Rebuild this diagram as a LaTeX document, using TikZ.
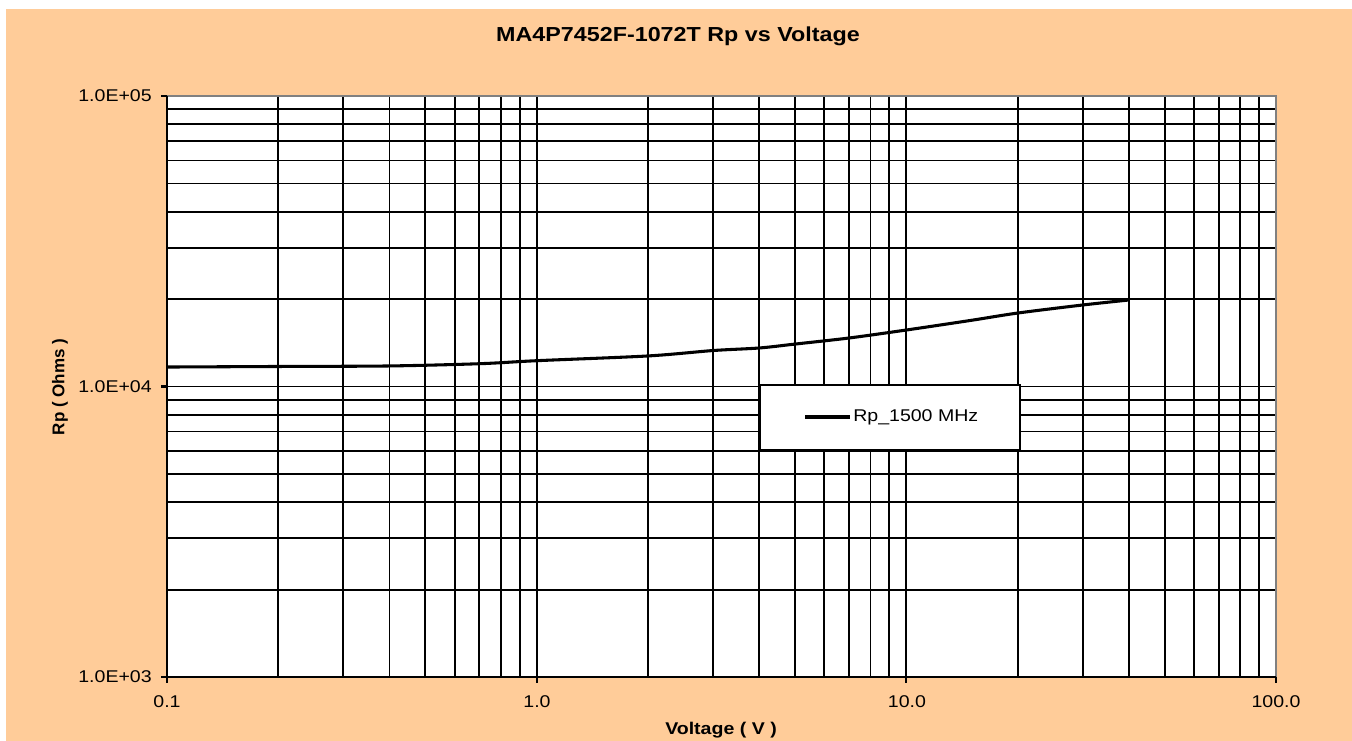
\documentclass[tikz,border=0pt]{standalone}
\usepackage{fontspec}
\setmainfont{Liberation Sans}
\usepackage{graphicx}
\definecolor{chartbg}{RGB}{255,204,153}
\definecolor{framegray}{RGB}{128,128,128}
\newcommand{\wtxt}[1]{\scalebox{1.15}[1]{#1}}

\begin{document}
\begin{tikzpicture}[x=0.75pt,y=-0.75pt,
  declare function={vx(\v)=167+369.67*(log10(\v)+1); ry(\r)=677-290.5*log10(\r);},
  lbl/.style={font=\fontsize{12.75}{15}\selectfont, inner sep=0pt},
  gridline/.style={line width=1.4pt},
  curve/.style={line width=2.3pt}]
\useasboundingbox (0,0) rectangle (1352,741);
\fill[chartbg] (6,9) rectangle (1352,741);
\fill[white] (167,96) rectangle (1276,677);
% grid
\foreach \k in {0,1,2}
  \foreach \m in {1,...,9}
    \draw[gridline] ({167+369.67*(\k+log10(\m))},96) -- ({167+369.67*(\k+log10(\m))},677);
\foreach \k in {0,1}
  \foreach \m in {1,...,9}
    \draw[gridline] (167,{677-290.5*(\k+log10(\m))}) -- (1276,{677-290.5*(\k+log10(\m))});
% frame and axes
\draw[framegray, line width=1.3pt] (167,96) -- (1276,96) -- (1276,677);
\draw[line width=1.6pt] (167,96) -- (167,677) -- (1276,677);
\foreach \y in {96,386.5,677}
  \draw[line width=1.6pt] (161,\y) -- (167,\y);
\foreach \x in {167,536.67,906.33,1276}
  \draw[line width=1.6pt] (\x,677) -- (\x,683);
% tick labels
\node[lbl, anchor=east] (y5) at (152,96) {\wtxt{1.0E+05}};
\node[lbl, anchor=east] (y4) at (152,386.5) {\wtxt{1.0E+04}};
\node[lbl, anchor=east] (y3) at (152,677) {\wtxt{1.0E+03}};
\node[lbl] (x1) at (167,702) {\wtxt{0.1}};
\node[lbl] (x2) at (537,702) {\wtxt{1.0}};
\node[lbl] (x3) at (907,702) {\wtxt{10.0}};
\node[lbl] (x4) at (1276,702) {\wtxt{100.0}};
% titles
\node[font=\fontsize{15.2}{18}\selectfont\bfseries, inner sep=0pt] (title) at (678,36) {\wtxt{MA4P7452F-1072T Rp vs Voltage}};
\node[lbl, font=\fontsize{12.75}{15}\selectfont\bfseries] (xtitle) at (721,730) {\wtxt{Voltage ( V )}};
\node[lbl, font=\fontsize{12.75}{15}\selectfont\bfseries, rotate=90] (ytitle) at (60,387) {Rp ( Ohms )};
% Rp curve, values in kOhm
\draw[curve] plot[smooth] coordinates {
  ({vx(0.1)},{ry(11.67)}) ({vx(0.2)},{ry(11.72)}) ({vx(0.4)},{ry(11.77)})
  ({vx(0.7)},{ry(11.98)}) ({vx(1)},{ry(12.27)}) ({vx(2)},{ry(12.74)})
  ({vx(3)},{ry(13.30)}) ({vx(4)},{ry(13.57)}) ({vx(5)},{ry(14.00)})
  ({vx(7)},{ry(14.69)}) ({vx(10)},{ry(15.65)}) ({vx(15)},{ry(16.90)})
  ({vx(20)},{ry(17.90)}) ({vx(30)},{ry(19.08)}) ({vx(40)},{ry(19.85)})};
% legend
\node[draw, fill=white, line width=1.2pt, inner sep=0pt, minimum width=195pt, minimum height=48.75pt] (legend) at (890,417.5) {};
\coordinate (legA) at (805,417);
\coordinate (legB) at (850,417);
\draw[curve] (legA) -- (legB);
\node[lbl, anchor=west] (legtxt) at (853,417) {\wtxt{Rp\_1500 MHz}};
\end{tikzpicture}
\end{document}
